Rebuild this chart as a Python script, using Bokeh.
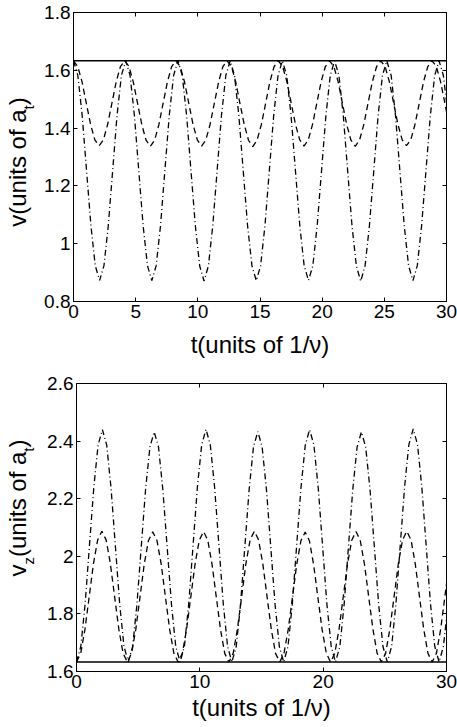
from bokeh.plotting import figure
from bokeh.layouts import column, row
from bokeh.models import LinearAxis, FixedTicker, CustomJSTickFormatter, Range1d, Div
from bokeh.embed import file_html
from bokeh.resources import INLINE

# ---------------- data ----------------
# sample times: dash-dot curves sampled every 0.35, dashed curves every 4.12/12
t_dd = [round(0.35 * i, 3) for i in range(86)] + [30.0]
t_d = [round(4.12 / 12 * i, 3) for i in range(88)] + [30.0]
t_line = [0.0, 30.0]

v_const = [1.633, 1.633]
vz_const = [1.633, 1.633]

v_dd = [
    1.633, 1.582, 1.443, 1.253, 1.063, 0.924, 0.873, 0.924, 1.063, 1.253, 1.443, 1.582,
    1.633, 1.582, 1.443, 1.253, 1.063, 0.924, 0.872, 0.924, 1.063, 1.253, 1.443, 1.582,
    1.633, 1.582, 1.443, 1.252, 1.062, 0.923, 0.871, 0.923, 1.062, 1.252, 1.443, 1.582,
    1.633, 1.582, 1.443, 1.253, 1.063, 0.924, 0.872, 0.924, 1.063, 1.253, 1.443, 1.582,
    1.633, 1.582, 1.443, 1.253, 1.063, 0.924, 0.873, 0.924, 1.063, 1.253, 1.443, 1.582,
    1.633, 1.582, 1.443, 1.252, 1.062, 0.923, 0.870, 0.923, 1.062, 1.252, 1.443, 1.582,
    1.633, 1.582, 1.443, 1.253, 1.063, 0.924, 0.872, 0.924, 1.063, 1.253, 1.443, 1.582,
    1.633, 1.582, 1.490,
]

v_d = [
    1.633, 1.613, 1.560, 1.486, 1.413, 1.359, 1.339, 1.359, 1.413, 1.486, 1.560, 1.613,
    1.633, 1.613, 1.560, 1.486, 1.412, 1.358, 1.337, 1.358, 1.412, 1.486, 1.560, 1.613,
    1.633, 1.613, 1.560, 1.486, 1.413, 1.359, 1.338, 1.359, 1.413, 1.486, 1.560, 1.613,
    1.633, 1.613, 1.560, 1.485, 1.412, 1.358, 1.336, 1.358, 1.412, 1.485, 1.560, 1.613,
    1.633, 1.613, 1.560, 1.486, 1.413, 1.359, 1.338, 1.359, 1.413, 1.486, 1.560, 1.613,
    1.633, 1.613, 1.560, 1.486, 1.412, 1.358, 1.337, 1.358, 1.412, 1.486, 1.560, 1.613,
    1.633, 1.613, 1.560, 1.486, 1.413, 1.359, 1.339, 1.359, 1.413, 1.486, 1.560, 1.613,
    1.633, 1.613, 1.560, 1.486, 1.457,
]

vz_dd = [
    1.633, 1.687, 1.835, 2.037, 2.238, 2.386, 2.440, 2.386, 2.238, 2.037, 1.835, 1.687,
    1.633, 1.686, 1.833, 2.033, 2.232, 2.379, 2.432, 2.379, 2.232, 2.033, 1.833, 1.686,
    1.633, 1.687, 1.835, 2.037, 2.239, 2.387, 2.441, 2.387, 2.239, 2.037, 1.835, 1.687,
    1.633, 1.686, 1.833, 2.033, 2.233, 2.380, 2.433, 2.380, 2.233, 2.033, 1.833, 1.686,
    1.633, 1.687, 1.835, 2.037, 2.238, 2.386, 2.440, 2.386, 2.238, 2.037, 1.835, 1.687,
    1.633, 1.686, 1.833, 2.033, 2.232, 2.379, 2.432, 2.379, 2.232, 2.033, 1.833, 1.686,
    1.633, 1.687, 1.836, 2.038, 2.240, 2.388, 2.442, 2.388, 2.240, 2.038, 1.836, 1.687,
    1.633, 1.687, 1.785,
]

vz_d = [
    1.633, 1.663, 1.747, 1.860, 1.974, 2.057, 2.087, 2.057, 1.974, 1.860, 1.747, 1.663,
    1.633, 1.663, 1.746, 1.859, 1.973, 2.055, 2.085, 2.055, 1.973, 1.859, 1.746, 1.663,
    1.633, 1.663, 1.747, 1.860, 1.973, 2.056, 2.086, 2.056, 1.973, 1.860, 1.747, 1.663,
    1.633, 1.663, 1.747, 1.860, 1.974, 2.057, 2.087, 2.057, 1.974, 1.860, 1.747, 1.663,
    1.633, 1.663, 1.746, 1.858, 1.971, 2.054, 2.084, 2.054, 1.971, 1.858, 1.746, 1.663,
    1.633, 1.663, 1.747, 1.860, 1.973, 2.056, 2.086, 2.056, 1.973, 1.860, 1.747, 1.663,
    1.633, 1.663, 1.747, 1.860, 1.974, 2.057, 2.087, 2.057, 1.974, 1.860, 1.747, 1.663,
    1.633, 1.663, 1.747, 1.860, 1.905,
]

top_xticks = [0, 5, 10, 15, 20, 25, 30]
top_yticks = [0.8, 1.0, 1.2, 1.4, 1.6, 1.8]
bot_xticks = [0, 10, 20, 30]
bot_yticks = [1.6, 1.8, 2.0, 2.2, 2.4, 2.6]
x_label = "t(units of 1/\u03bd)"
# y labels: (text, is_subscript)
top_ylabel = [("v(units of a", False), ("t", True), (")", False)]
bot_ylabel = [("v", False), ("z", True), ("(units of a", False), ("t", True), (")", False)]

# ---------------- styling / layout ----------------
FONT = "Liberation Sans"
TICK_SIZE = 19
LABEL_SIZE = 24
SUB_SIZE = 15
SUB_DROP = 8

W = 457
LW = 40          # width of the strip that holds the rotated y label
H1, H2 = 365, 362
LINE_W = 1.3


def make_fig(height, top, bottom, left, right, yr, xticks, yticks, lab_standoff):
    p = figure(width=W - LW, height=height, x_range=Range1d(0, 30), y_range=Range1d(*yr),
               output_backend="svg", toolbar_location=None,
               min_border_left=left - LW, min_border_right=right,
               min_border_top=top, min_border_bottom=bottom,
               background_fill_color="white", border_fill_color="white")
    p.grid.visible = False
    p.outline_line_color = "black"
    ax = p.xaxis[0]
    ax.ticker = FixedTicker(ticks=xticks)
    ax.formatter = CustomJSTickFormatter(code="return String(Math.round(tick));")
    ax.axis_label = x_label
    ax.axis_label_text_font = FONT
    ax.axis_label_text_font_size = f"{LABEL_SIZE}px"
    ax.axis_label_text_font_style = "normal"
    ax.axis_label_text_color = "black"
    ax.axis_label_standoff = lab_standoff
    ay = p.yaxis[0]
    ay.ticker = FixedTicker(ticks=yticks)
    ay.formatter = CustomJSTickFormatter(code="return String(Number(tick.toFixed(1)));")
    for a in (ax, ay):
        a.major_label_text_font = FONT
        a.major_label_text_font_size = f"{TICK_SIZE}px"
        a.major_label_text_color = "black"
        a.major_label_standoff = 3
        a.major_tick_in = 4
        a.major_tick_out = 0
        a.minor_tick_line_color = None
        a.axis_line_color = "black"
        a.major_tick_line_color = "black"
    for loc, tk in (("above", xticks), ("right", yticks)):
        ex = LinearAxis(ticker=FixedTicker(ticks=tk), major_label_text_color=None,
                        major_label_standoff=0, major_tick_in=4, major_tick_out=0,
                        minor_tick_line_color=None, axis_line_color="black",
                        major_tick_line_color="black")
        p.add_layout(ex, loc)
    return p


def make_label_strip(height, pieces, center_y, center_x):
    """HTML strip holding the rotated y label (real text with subscripts)."""
    parts = []
    for s, sub in pieces:
        if sub:
            parts.append(f'<span style="font-size:{SUB_SIZE}px;vertical-align:-{SUB_DROP}px;'
                         f'line-height:0;">{s}</span>')
        else:
            parts.append(s)
    txt = "".join(parts)
    html = (
        f'<div style="position:relative;width:{LW}px;height:{height}px;overflow:visible;">'
        f'<div style="position:absolute;left:{center_x}px;top:{center_y}px;width:0;height:0;'
        f'transform:rotate(-90deg);transform-origin:0 0;">'
        f'<div style="position:absolute;left:0;top:0;transform:translate(-50%,-50%);'
        f'white-space:nowrap;font-family:\'{FONT}\';font-size:{LABEL_SIZE}px;line-height:1;'
        f'color:black;">{txt}</div></div></div>'
    )
    return Div(text=html, width=LW, height=height, margin=0,
               styles={"overflow": "visible", "background-color": "white"})


# top panel: frame x 73..446, y 12..301 (page px)
p1 = make_fig(H1, 12, H1 - 301, 73, W - 446, (0.8, 1.8), top_xticks, top_yticks, 10)
p1.line(t_line, v_const, line_color="black", line_width=LINE_W)
p1.line(t_d, v_d, line_color="black", line_width=LINE_W, line_dash="6 4")
p1.line(t_dd, v_dd, line_color="black", line_width=LINE_W, line_dash="6 3 1 3")
l1 = make_label_strip(H1, top_ylabel, 162, 18)

# bottom panel: frame x 76..446, y 383..671 (page px)
p2 = make_fig(H2, 383 - H1, H1 + H2 - 671, 76, W - 446, (1.6, 2.6), bot_xticks, bot_yticks, 3)
p2.line(t_line, vz_const, line_color="black", line_width=LINE_W)
p2.line(t_d, vz_d, line_color="black", line_width=LINE_W, line_dash="6 4")
p2.line(t_dd, vz_dd, line_color="black", line_width=LINE_W, line_dash="6 3 1 3")
l2 = make_label_strip(H2, bot_ylabel, 508 - H1, 18)

layout = column(row(l1, p1, spacing=0), row(l2, p2, spacing=0), spacing=0)
open("out.html", "w").write(file_html(layout, INLINE))
